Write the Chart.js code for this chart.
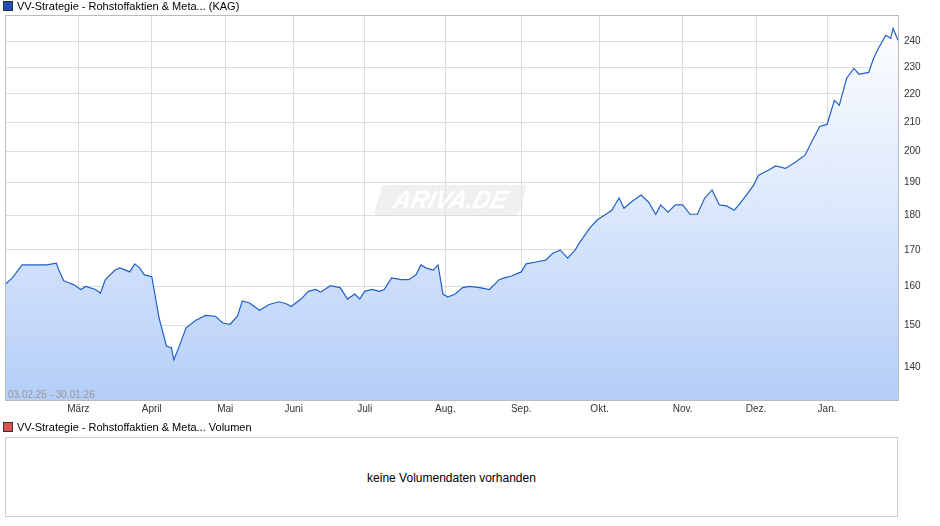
<!DOCTYPE html>
<html><head><meta charset="utf-8">
<script src="https://cdn.jsdelivr.net/npm/chart.js@4/dist/chart.umd.min.js"></script>
<style>
body{margin:0;background:#fff;font-family:"Liberation Sans",Arial,sans-serif;}
#wrap{position:absolute;left:0;top:0;width:940px;height:420px;}
.lg{position:absolute;font-size:11px;color:#000;}
.sq{display:inline-block;width:8px;height:8px;border:1px solid #333;margin-right:4px;vertical-align:-1px;}
</style></head><body>
<div id="wrap"><canvas id="c"></canvas></div>
<div class="lg" style="left:3px;top:0px"><span class="sq" style="background:#1f4fb4"></span>VV-Strategie - Rohstoffaktien &amp; Meta... (KAG)</div>
<div style="position:absolute;left:378px;top:185px;width:145px;height:30px;transform:skewX(-15deg);background:rgba(230,230,230,0.6);border-radius:4px;color:#fff;font:italic bold 24px 'Liberation Sans';text-align:center;line-height:30px;">ARIVA.DE</div>
<div style="position:absolute;left:8px;top:389px;font-size:10px;color:#999">03.02.25 - 30.01.26</div>
<div class="lg" style="left:3px;top:421px"><span class="sq" style="background:#d9534f"></span>VV-Strategie - Rohstoffaktien &amp; Meta... Volumen</div>
<div style="position:absolute;left:5px;top:437px;width:893px;height:80px;border:1px solid #ccc;box-sizing:border-box;text-align:center;line-height:80px;font-size:12px;color:#000">keine Volumendaten vorhanden</div>
<script>
const days=[-4,-1,3,9,13,17,18,20,22,24,27,29,33,35,37,41,43,47,49,51,53,56,59,62,64,65,67,70,74,78,82,85,88,91,93,96,100,104,108,111,113,117,120,123,125,129,133,136,139,141,143,146,149,151,154,158,161,164,166,168,171,173,175,177,180,183,186,190,194,198,200,203,207,209,213,217,220,223,226,229,231,235,238,241,244,247,249,252,256,259,262,264,267,270,273,276,279,282,285,288,291,294,296,300,302,304,308,311,315,319,323,326,329,332,335,337,340,343,345,349,351,353,356,358,359,361];
const values=[160.5,162.3,165.8,165.8,165.8,166.3,164.4,161.5,161,160.5,159.2,160,159.2,158.2,161.8,164.4,165,163.9,166.1,165,163.1,162.6,151.8,145,144.6,141.7,144.6,149.4,151.3,152.5,152.3,150.6,150.3,152.3,156.2,155.7,153.8,155.3,156,155.5,154.8,156.7,158.7,159.2,158.5,160.2,159.7,156.7,158,156.7,158.7,159.2,158.7,159.2,162.3,161.8,161.8,163.1,165.8,165,164.4,165.8,158,157.2,158,159.7,160,159.7,159.2,161.8,162.3,162.8,163.9,166.1,166.6,167.1,169.1,169.9,167.7,169.9,172.2,176.2,178.6,180,181.5,185.2,182.1,184,186.1,184,180.3,183.1,180.9,183.1,183.1,180.3,180.3,185.2,187.7,183.1,182.8,181.5,183.1,187.1,189.2,192.3,193.9,195.3,194.5,196.5,198.8,203.7,208.5,209.2,217.7,215.9,225.8,229.5,227.3,228,233.3,237.3,242.4,241.2,245.2,240.4];
const monthLabels=["März","April","Mai","Juni","Juli","Aug.","Sep.","Okt.","Nov.","Dez.","Jan."];
const monthDays=[26,56,86,114,143,176,207,239,273,303,332];
const yTicks=[140,150,160,170,180,190,200,210,220,230,240];
const ctx=document.getElementById('c').getContext('2d');
const grad=ctx.createLinearGradient(0,15,0,400);
grad.addColorStop(0,'rgba(255,255,255,0.9)');grad.addColorStop(1,'rgba(180,206,248,1)');
new Chart(ctx,{type:'line',
data:{datasets:[{data:days.map((d,i)=>({x:d,y:values[i]})),borderColor:'#2160c8',borderWidth:1.2,pointRadius:0,fill:'start',backgroundColor:grad,tension:0}]},
options:{responsive:true,maintainAspectRatio:false,animation:false,
layout:{padding:{left:5,top:15,right:0,bottom:0}},
plugins:{legend:{display:false},tooltip:{enabled:false}},
scales:{
x:{type:'linear',min:-4,max:361,
 afterBuildTicks:s=>{s.ticks=monthDays.map(v=>({value:v}));},
 afterFit:s=>{s.height=20;},
 ticks:{autoSkip:false,maxRotation:0,padding:3,color:'#333',font:{size:10,family:'Liberation Sans'},callback:(v)=>monthLabels[monthDays.indexOf(v)]},
 grid:{color:'#dcdcdc',drawTicks:false},border:{color:'#bbb'}},
y:{type:'logarithmic',position:'right',min:132.6,max:250.7,
 afterBuildTicks:s=>{s.ticks=yTicks.map(v=>({value:v}));},
 afterFit:s=>{s.width=42;},
 ticks:{padding:6,color:'#333',font:{size:10,family:'Liberation Sans'},callback:v=>String(v)},
 grid:{color:'#dcdcdc',drawTicks:false},border:{color:'#bbb'}}
}},
plugins:[{id:'frame',afterDraw(c){const a=c.chartArea,g=c.ctx;g.save();g.strokeStyle='#bbb';g.lineWidth=1;g.strokeRect(a.left+0.5,a.top+0.5,a.width,a.height);g.restore();}}]
});
</script></body></html>
